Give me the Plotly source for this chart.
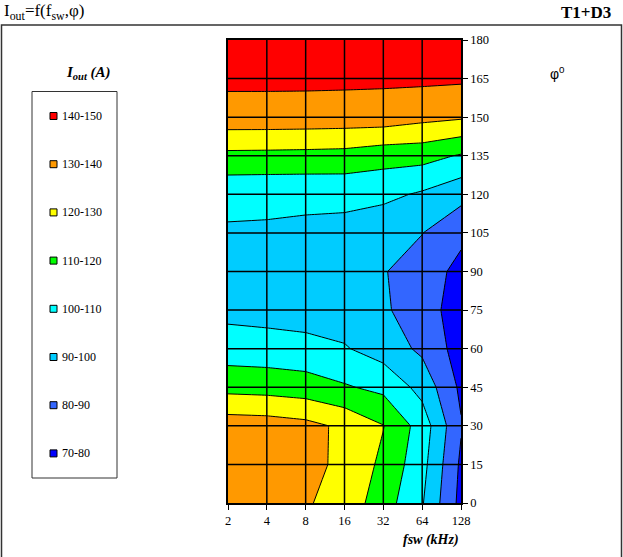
import plotly.graph_objects as go

# Switching frequency (kHz) and phase angle (degrees)
freq_khz = [2, 4, 8, 16, 32, 64, 128]
phi_deg = [0, 15, 30, 45, 60, 75, 90, 105, 120, 135, 150, 165, 180]

# Output current I_out (A); one row per phase angle, one value per frequency
iout_phi_0 = [135.0, 133.5, 131.0, 126.0, 114.7, 100.8, 77.0]
iout_phi_15 = [136.0, 135.5, 134.0, 127.0, 118.0, 103.3, 78.3]
iout_phi_30 = [135.5, 134.9, 132.9, 128.0, 120.3, 105.6, 80.8]
iout_phi_45 = [116.8, 116.1, 114.6, 111.0, 107.5, 96.7, 78.0]
iout_phi_60 = [104.7, 104.2, 103.3, 100.8, 95.5, 88.0, 75.5]
iout_phi_75 = [97.3, 96.4, 95.4, 95.0, 91.6, 84.0, 75.7]
iout_phi_90 = [95.0, 94.5, 94.0, 93.5, 90.5, 86.0, 76.6]
iout_phi_105 = [99.0, 98.8, 98.0, 97.0, 93.0, 90.2, 82.7]
iout_phi_120 = [102.5, 102.3, 102.3, 102.7, 102.5, 98.7, 93.1]
iout_phi_135 = [117.5, 117.3, 117.0, 116.5, 114.0, 113.6, 109.1]
iout_phi_150 = [136.0, 136.0, 135.8, 135.5, 135.5, 132.8, 131.2]
iout_phi_165 = [142.0, 142.0, 142.0, 141.9, 141.6, 141.9, 141.5]
iout_phi_180 = [146.0, 146.0, 146.0, 146.0, 146.0, 146.0, 146.0]

iout = [iout_phi_0, iout_phi_15, iout_phi_30, iout_phi_45, iout_phi_60,
        iout_phi_75, iout_phi_90, iout_phi_105, iout_phi_120, iout_phi_135,
        iout_phi_150, iout_phi_165, iout_phi_180]

# Current bands, low to high
band_labels = ["70-80", "80-90", "90-100", "100-110",
               "110-120", "120-130", "130-140", "140-150"]
band_colors = ["#0000FF", "#3366FF", "#00CCFF", "#00FFFF",
               "#00FF00", "#FFFF00", "#FF9900", "#FF0000"]
level_start, level_end, level_step = 80, 140, 10

# Page geometry (pixels)
W_PX, H_PX = 623, 557
PL, PR, PT, PB = 228, 461, 40, 503
SERIF = "Liberation Serif"


def px(x):
    return (x - PL) / (PR - PL)


def py(y):
    return (PB - y) / (PB - PT)


x_cats = [str(f) for f in freq_khz]
n = len(band_colors)
colorscale = [[i / (n - 1), c] for i, c in enumerate(band_colors)]

fig = go.Figure()
fig.add_trace(go.Contour(
    x=x_cats, y=phi_deg, z=iout,
    colorscale=colorscale, zmin=level_start - level_step / 2,
    zmax=level_end + level_step / 2,
    autocontour=False,
    contours=dict(start=level_start, end=level_end, size=level_step,
                  coloring="fill", showlines=True),
    line=dict(color="black", width=1, smoothing=0),
    showscale=False, hoverinfo="skip",
))

# Grid drawn on top of the filled bands
gx, gy = [], []
for c in x_cats[1:-1]:
    gx += [c, c, None]
    gy += [phi_deg[0], phi_deg[-1], None]
for p in phi_deg[1:-1]:
    gx += [x_cats[0], x_cats[-1], None]
    gy += [p, p, None]
fig.add_trace(go.Scatter(x=gx, y=gy, mode="lines",
                         line=dict(color="black", width=1.5),
                         hoverinfo="skip", showlegend=False))

shapes = []
annotations = []

# Outer frame below the heading
shapes.append(dict(type="rect", xref="paper", yref="paper",
                   x0=px(1.5), x1=px(621.5), y0=py(600), y1=py(25),
                   line=dict(color="#333333", width=1.5), layer="below"))

# Legend box with colour keys
shapes.append(dict(type="rect", xref="paper", yref="paper",
                   x0=px(32), x1=px(117), y0=py(478), y1=py(91.5),
                   line=dict(color="#333333", width=1)))
row_y0, row_dy = 116, 48.2
for k, (lab, col) in enumerate(zip(reversed(band_labels), reversed(band_colors))):
    yc = row_y0 + k * row_dy
    shapes.append(dict(type="rect", xref="paper", yref="paper",
                       x0=px(50), x1=px(57), y0=py(yc + 3.5), y1=py(yc - 3.5),
                       fillcolor=col, line=dict(color="black", width=1)))
    annotations.append(dict(xref="paper", yref="paper", x=px(59.5), y=py(yc),
                            xanchor="left", yanchor="middle", showarrow=False,
                            text=lab, font=dict(family=SERIF, size=12, color="black")))

annotations += [
    dict(xref="paper", yref="paper", x=px(88), y=py(73), showarrow=False,
         xanchor="center", yanchor="middle",
         text="<b><i>I<sub>out</sub> (A)</i></b>",
         font=dict(family=SERIF, size=15, color="black")),
    dict(xref="paper", yref="paper", x=px(2), y=py(12), showarrow=False,
         xanchor="left", yanchor="middle",
         text="I<sub>out</sub>=f(f<sub>sw</sub>,φ)",
         font=dict(family=SERIF, size=17, color="black")),
    dict(xref="paper", yref="paper", x=px(613), y=py(12), showarrow=False,
         xanchor="right", yanchor="middle", text="<b>T1+D3</b>",
         font=dict(family=SERIF, size=17, color="black")),
    dict(xref="paper", yref="paper", x=px(557), y=py(73), showarrow=False,
         xanchor="center", yanchor="middle", text="φ<sup>0</sup>",
         font=dict(family="Liberation Sans", size=14, color="black")),
    dict(xref="paper", yref="paper", x=px(461), y=py(540), showarrow=False,
         xanchor="right", yanchor="middle", text="<b><i>fsw (kHz)</i></b>",
         font=dict(family=SERIF, size=14, color="black")),
]

fig.update_layout(
    width=W_PX, height=H_PX,
    margin=dict(l=PL, r=W_PX - PR, t=PT, b=H_PX - PB, pad=0),
    paper_bgcolor="white", plot_bgcolor="white",
    showlegend=False,
    shapes=shapes, annotations=annotations,
    xaxis=dict(type="category", range=[0, len(x_cats) - 1],
               tickvals=x_cats, ticktext=x_cats,
               ticks="outside", ticklen=5, tickwidth=1, tickcolor="black",
               showgrid=False, zeroline=False,
               showline=True, linecolor="black", linewidth=1.5, mirror=True,
               tickfont=dict(family=SERIF, size=12.5, color="black")),
    yaxis=dict(side="right", range=[0, 180], tickmode="array",
               tickvals=phi_deg,
               ticks="outside", ticklen=5, tickwidth=1, tickcolor="black",
               showgrid=False, zeroline=False,
               showline=True, linecolor="black", linewidth=1.5, mirror=True,
               tickfont=dict(family=SERIF, size=12.5, color="black")),
)

fig.write_html("out.html", config={"displayModeBar": False})
